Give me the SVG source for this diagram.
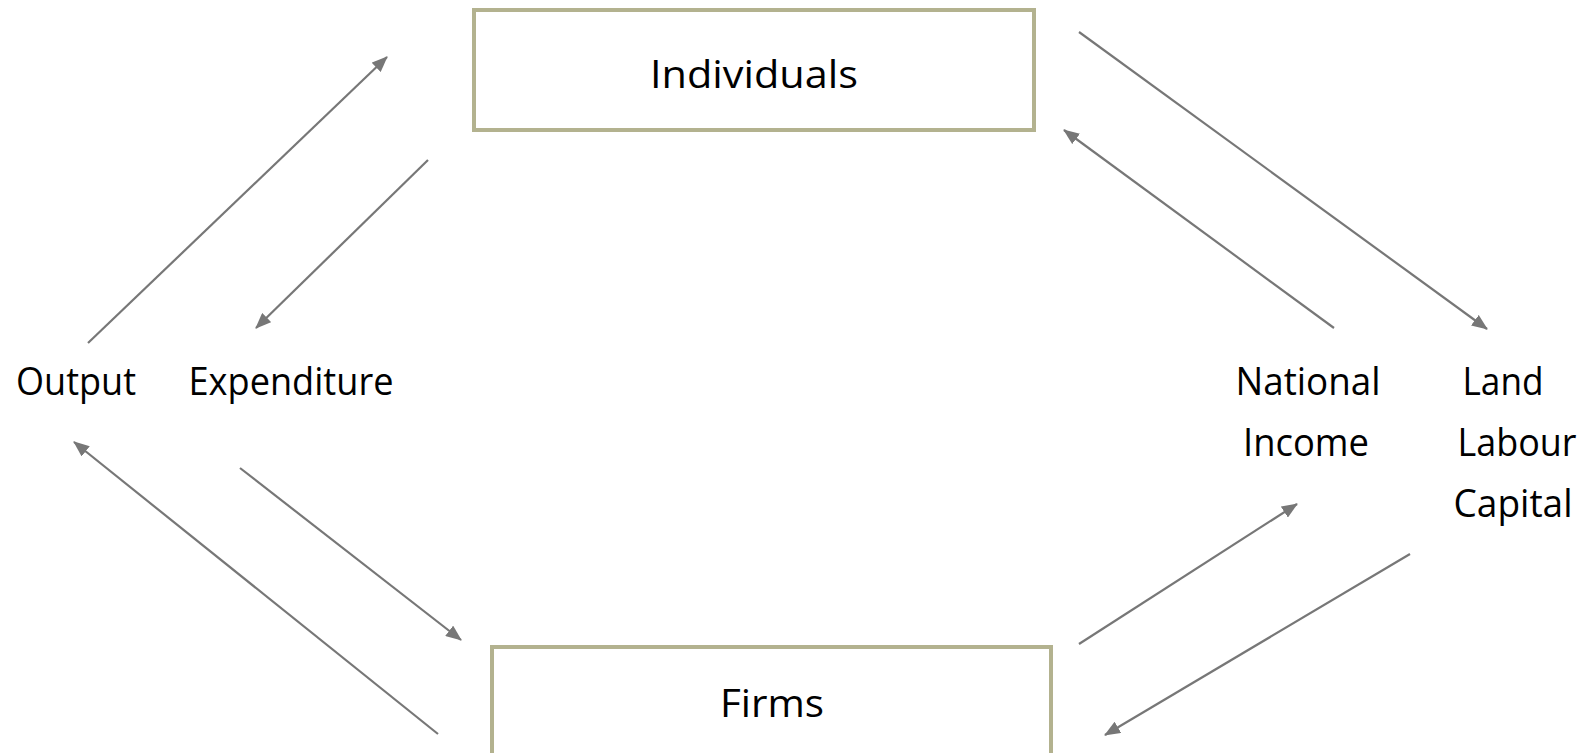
<svg xmlns="http://www.w3.org/2000/svg" width="1590" height="753" viewBox="0 0 1590 753">
  <style>
    .box { fill: #ffffff; stroke: #b3b28f; stroke-width: 4; }
    .label { font-family: "Open Sans", "Liberation Sans", sans-serif; font-size: 39px; fill: #000000; }
    .flow { stroke: #777777; stroke-width: 2.2; fill: none; marker-end: url(#head); }
  </style>
  <defs>
    <marker id="head" viewBox="0 0 16 13" refX="15" refY="6.5" markerWidth="16" markerHeight="13" markerUnits="userSpaceOnUse" orient="auto">
      <path d="M0,0 L16,6.5 L0,13 z" fill="#777777"/>
    </marker>
  </defs>
  <rect width="1590" height="753" fill="#ffffff"/>

  <g id="individuals">
    <rect class="box" x="474" y="10" width="560" height="120"/>
    <text class="label" x="754" y="88" text-anchor="middle" textLength="208" lengthAdjust="spacingAndGlyphs">Individuals</text>
  </g>

  <g id="firms">
    <rect class="box" x="492" y="647" width="559" height="120"/>
    <text class="label" x="772" y="717" text-anchor="middle" textLength="104" lengthAdjust="spacingAndGlyphs">Firms</text>
  </g>

  <g id="output">
    <text class="label" x="76" y="395" text-anchor="middle" textLength="120" lengthAdjust="spacingAndGlyphs">Output</text>
  </g>

  <g id="expenditure">
    <text class="label" x="291" y="395" text-anchor="middle" textLength="205" lengthAdjust="spacingAndGlyphs">Expenditure</text>
  </g>

  <g id="national-income">
    <text class="label" x="1308" y="395" text-anchor="middle" textLength="145" lengthAdjust="spacingAndGlyphs">National</text>
    <text class="label" x="1306" y="456" text-anchor="middle" textLength="126" lengthAdjust="spacingAndGlyphs">Income</text>
  </g>

  <g id="factors">
    <text class="label" x="1503" y="395" text-anchor="middle" textLength="81" lengthAdjust="spacingAndGlyphs">Land</text>
    <text class="label" x="1517" y="456" text-anchor="middle" textLength="119" lengthAdjust="spacingAndGlyphs">Labour</text>
    <text class="label" x="1513" y="517" text-anchor="middle" textLength="119" lengthAdjust="spacingAndGlyphs">Capital</text>
  </g>

  <g id="connectors">
    <line class="flow" x1="88" y1="343" x2="387" y2="57"/>
    <line class="flow" x1="428" y1="160" x2="256" y2="328"/>
    <line class="flow" x1="1079" y1="32" x2="1487" y2="329"/>
    <line class="flow" x1="1334" y1="328" x2="1064" y2="130"/>
    <line class="flow" x1="1079" y1="644" x2="1297" y2="504"/>
    <line class="flow" x1="1410" y1="554" x2="1105" y2="735"/>
    <line class="flow" x1="240" y1="468" x2="461" y2="640"/>
    <line class="flow" x1="438" y1="734" x2="74" y2="442"/>
  </g>
</svg>
